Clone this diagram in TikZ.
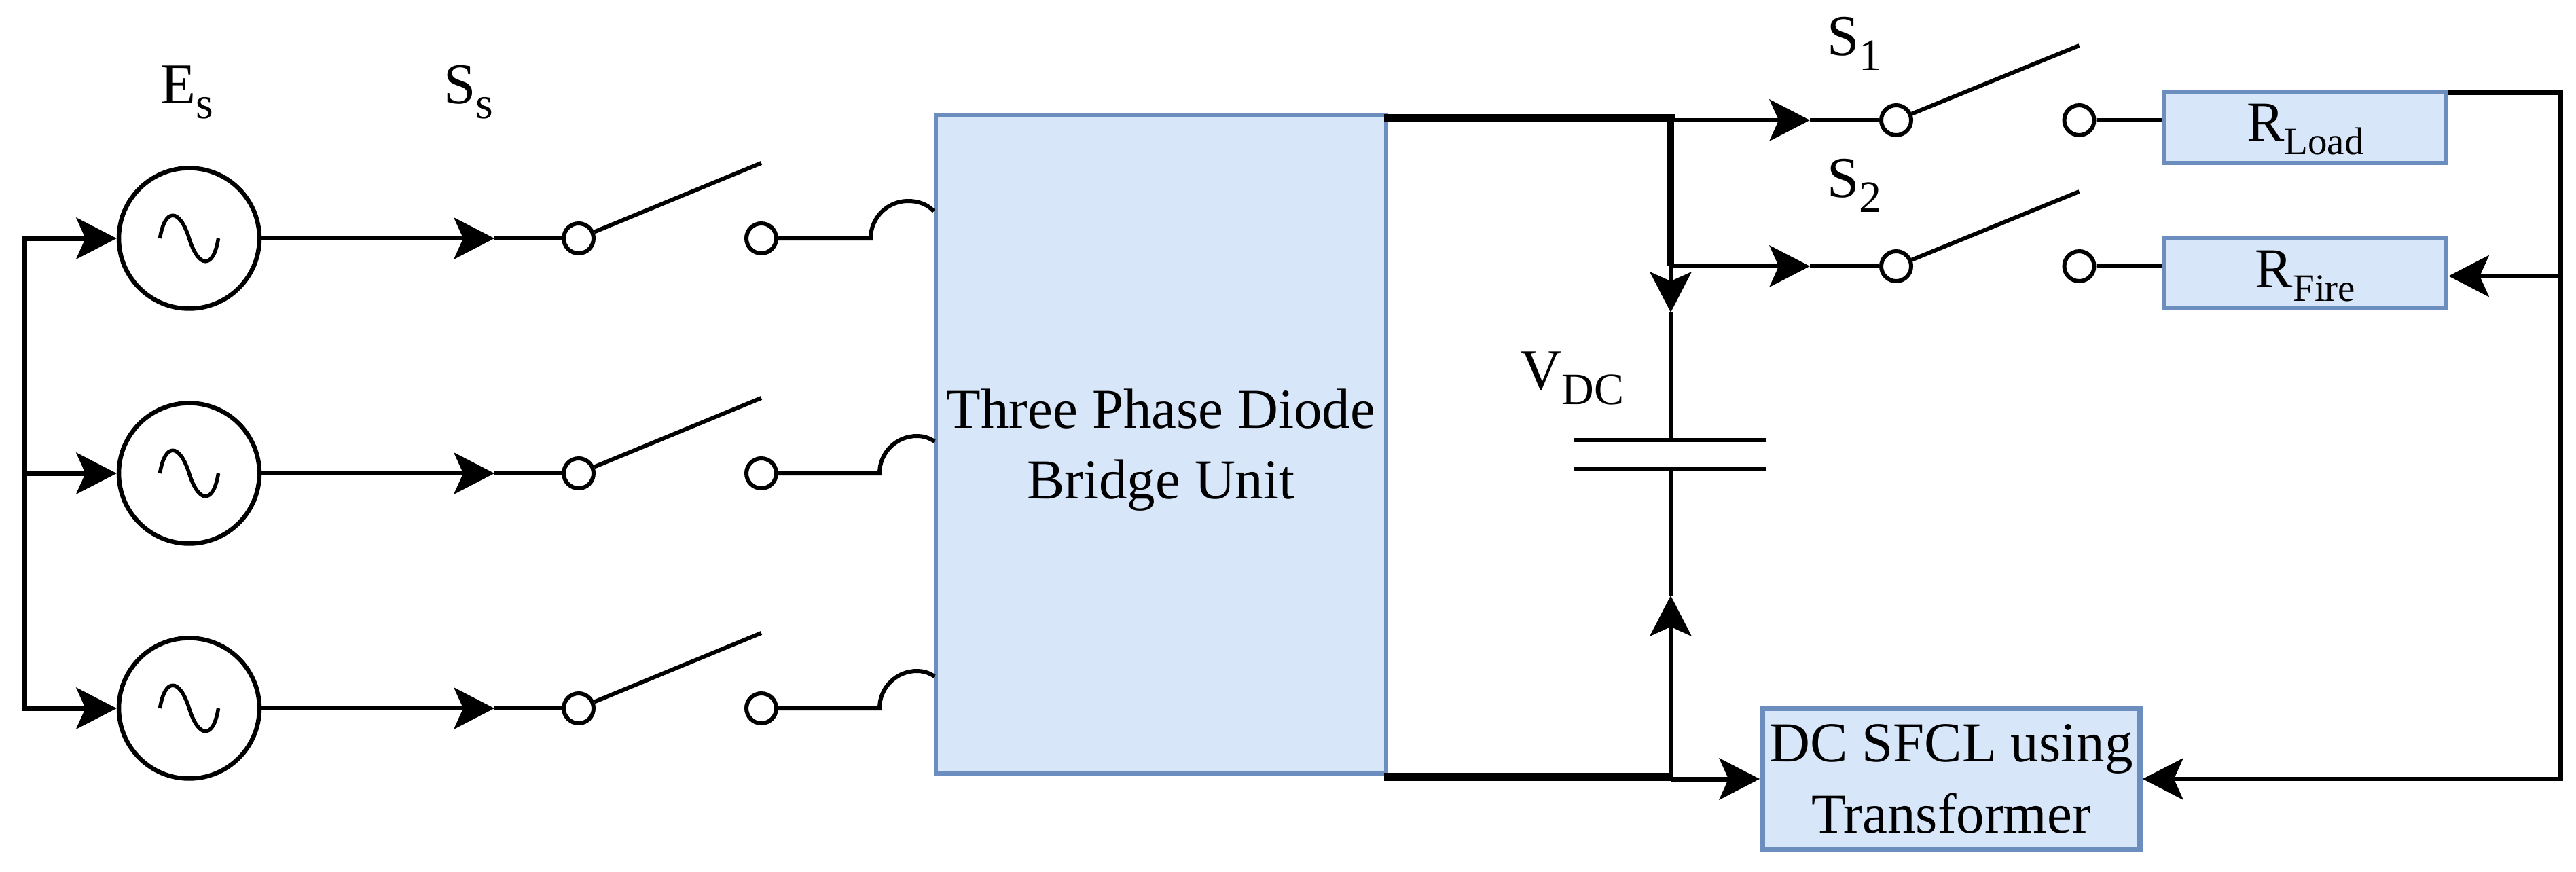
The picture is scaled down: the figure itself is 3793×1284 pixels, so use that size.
\documentclass[tikz,border=0pt]{standalone}
\usepackage{fontspec}
\setmainfont{Liberation Serif}
\usetikzlibrary{arrows.meta}
\definecolor{boxfill}{HTML}{D8E6FA}
\definecolor{boxline}{HTML}{6C8EBF}
\newcommand{\bigtxt}{\fontsize{83}{104}\selectfont}
\newcommand{\lbltxt}{\fontsize{85}{104}\selectfont}
\newcommand{\subtxt}[3][22pt]{\raisebox{-#1}{\fontsize{#2}{#2}\selectfont #3}}
\tikzset{
  x=1pt,y=-1pt,
  tip/.tip={Stealth[length=60pt,width=62pt,inset=14pt,line width=0pt]},
  wire/.style={line width=6pt,draw=black},
  bus/.style={line width=8pt,draw=black},
  heavy/.style={line width=12.5pt,draw=black},
  src/.style={circle,draw=black,line width=6.5pt,fill=white,minimum size=207pt,inner sep=0pt,outer sep=3.25pt},
  contact/.style={circle,draw=black,line width=6pt,fill=white,minimum size=44pt,inner sep=0pt,outer sep=3pt},
  block/.style={rectangle,draw=boxline,fill=boxfill,line width=6.5pt,inner sep=0pt,outer sep=3.25pt,align=center,font=\bigtxt},
  lbl/.style={anchor=base west,inner sep=0pt,font=\lbltxt}
}
\begin{document}
\begin{tikzpicture}
\useasboundingbox (0,0) rectangle (3793,1284);
\fill[white] (0,0) rectangle (3793,1284);

% blocks
\node[block,minimum width=663pt,minimum height=969pt] (bridge) at (1709.5,654.75) {\rule{0pt}{73pt}Three Phase Diode\\Bridge Unit};
\node[block,minimum width=415pt,minimum height=104pt] (rload) at (3394.5,188) {\rule{0pt}{60pt}R\subtxt[20pt]{57}{Load}};
\node[block,minimum width=415pt,minimum height=103pt] (rfire) at (3394.5,402.5) {\rule{0pt}{63pt}R\subtxt[20pt]{57}{Fire}};
\node[block,minimum width=556pt,minimum height=208pt,line width=8pt,outer sep=4pt,font=\fontsize{83}{105}\selectfont] (sfcl) at (2873,1147) {DC SFCL using\\Transformer};

% source rows
\coordinate (bus1) at (36,351);
\coordinate (bus2) at (36,697);
\coordinate (bus3) at (36,1043);
\draw[bus,line cap=rect] (bus1) -- (bus3);
\foreach \i/\y in {1/351,2/697,3/1043}{
  \node[src] (src\i) at (278.5,\y) {};
  \node[contact] (swl\i) at (852,\y) {};
  \node[contact] (swr\i) at (1121,\y) {};
  \coordinate (in\i) at (728,\y);
  \coordinate (bt\i) at (1121,\y-111);
  \draw[bus,-{tip}] (bus\i) -- (src\i.west);
  \draw[wire,-{tip}] (src\i.east) -- (in\i);
  \draw[wire] (in\i) -- (swl\i);
  \draw[wire] (swl\i) -- (bt\i);
  \draw[line width=5.5pt,line cap=butt] (278.5-43,\y) .. controls (278.5-36,\y-45) and (278.5-14,\y-45) .. (278.5,\y)
     .. controls (278.5+14,\y+45) and (278.5+36,\y+45) .. (278.5+43,\y);
}
% jumps into the bridge
\coordinate (jmp1) at (1282,351);
\coordinate (jmp2) at (1295,697);
\coordinate (jmp3) at (1295,1043);
\coordinate (je1) at (1375,311);
\coordinate (je2) at (1376,650);
\coordinate (je3) at (1376,996);
\draw[wire] (swr1) -- (jmp1) .. controls +(0,-30.4) and (1306.6,296) .. (1337,296)
   .. controls (1351.9,296) and (1364.6,300.3) .. (je1);
\draw[wire] (swr2) -- (jmp2) .. controls +(0,-30.4) and (1319.6,642) .. (1350,642)
   .. controls (1359.6,642) and (1368,644.6) .. (je2);
\draw[wire] (swr3) -- (jmp3) .. controls +(0,-30.4) and (1319.6,988) .. (1350,988)
   .. controls (1359.6,988) and (1368,990.6) .. (je3);

% DC bus
\coordinate (tl) at (2044,174);
\coordinate (tr) at (2460,174);
\coordinate (tm) at (2460,392);
\coordinate (bl) at (2038,1144);
\coordinate (br) at (2460,1144);
\coordinate (brt) at (2460,1147);
\coordinate (capa) at (2460,648);
\coordinate (capb) at (2460,690);
\coordinate (dn) at (2460,460);
\coordinate (up) at (2460,877);
\coordinate (p1l) at (2318,648);
\coordinate (p1r) at (2601,648);
\coordinate (p2l) at (2318,690);
\coordinate (p2r) at (2601,690);
\draw[heavy,line cap=rect] (tl) -- (tr);
\draw[line width=10pt,line cap=butt] (tr) -- (tm);
\draw[heavy] (bl) -- (br);
\draw[line width=6.5pt,-{tip}] (tm) -- (dn);
\draw[line width=6.5pt] (dn) -- (capa);
\draw[line width=6.5pt] (capb) -- (up);
\draw[line width=6.5pt,-{tip}] (br) -- (up);
\draw[line width=6.5pt] (p1l) -- (p1r);
\draw[line width=6.5pt] (p2l) -- (p2r);
\draw[line width=7pt,-{tip}] (brt) -- (sfcl.west);

% output rows
\coordinate (o1s) at (2460,177);
\coordinate (o2s) at (2460,392);
\foreach \i/\y in {1/177,2/392}{
  \node[contact] (osl\i) at (2792,\y) {};
  \node[contact] (osr\i) at (3061.5,\y) {};
  \coordinate (oin\i) at (2665,\y);
  \coordinate (obt\i) at (3061.5,\y-110);
  \draw[wire,-{tip}] (o\i s) -- (oin\i);
  \draw[wire] (oin\i) -- (osl\i);
  \draw[wire] (osl\i) -- (obt\i);
}
\draw[wire] (osr1) -- (osr1 -| rload.west);
\draw[wire] (osr2) -- (osr2 -| rfire.west);

% return path
\coordinate (rt1) at (3770.5,136.5);
\coordinate (rt0) at (3605,136.5);
\coordinate (rt2) at (3770.5,406.5);
\coordinate (rt3) at (3770.5,1147);
\draw[line width=6.5pt,line join=miter,-{tip}] (rt0) -- (rt1) -- (rt3) -- (sfcl.east);
\draw[line width=6.5pt,-{tip}] (rt2) -- (rt2 -| rfire.east);

% labels
\node[lbl] (es) at (236,153) {E\subtxt{66}{s}};
\node[lbl] (ss) at (653,153) {S\subtxt{66}{s}};
\node[lbl] (s1) at (2690,82) {S\subtxt{66}{1}};
\node[lbl] (s2) at (2690,290) {S\subtxt{66}{2}};
\node[lbl] (vdc) at (2238,573) {V\subtxt{66}{DC}};
\end{tikzpicture}
\end{document}
